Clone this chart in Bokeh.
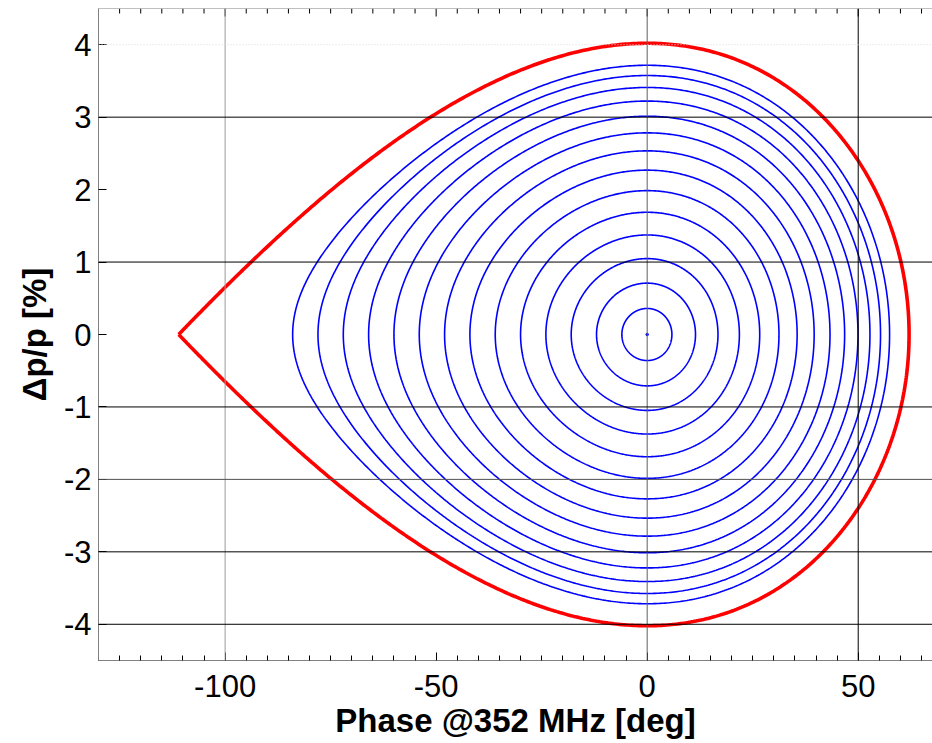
import numpy as np
from bokeh.plotting import figure
from bokeh.models import Range1d, FixedTicker, Span
from bokeh.embed import file_html
from bokeh.resources import INLINE

# RF bucket parameters (longitudinal phase space at 352 MHz)
sync_phase_deg = 145.5          # synchronous phase
separatrix_height = 4.02        # dp/p [%] of the separatrix at phase 0
unstable_phase_deg = -111.0     # cusp of the separatrix (unstable fixed point)

# left turning phase [deg] of each tracked orbit (dp/p = 0)
orbit_start_phase = [-6, -12, -18, -24, -30, -36, -42, -48, -54, -60, -66, -72, -78, -84]

x_ticks = [-100, -50, 0, 50]
y_ticks = [-4, -3, -2, -1, 0, 1, 2, 3, 4]
x_lo, x_hi = -130, 67.6
y_lo, y_hi = -4.5, 4.5

phs = np.radians(sync_phase_deg)


def potential(x_deg):
    x = np.radians(x_deg)
    return np.cos(phs + x) - np.cos(phs) + x * np.sin(phs)


e_sep = potential(unstable_phase_deg)
kin = 2.0 * e_sep / separatrix_height ** 2


def right_turning(level):
    lo, hi = 0.0, 120.0
    for _ in range(80):
        mid = 0.5 * (lo + hi)
        if potential(mid) < level:
            lo = mid
        else:
            hi = mid
    return 0.5 * (lo + hi)


def orbit(x_left):
    level = potential(x_left)
    x_right = right_turning(level)
    th = np.linspace(0.0, np.pi, 400)
    xs = x_left + (x_right - x_left) * (1 - np.cos(th)) / 2
    dp = np.sqrt(np.clip(2.0 * (level - potential(xs)) / kin, 0, None))
    X = np.concatenate([xs, xs[::-1]])
    Y = np.concatenate([dp, -dp[::-1]])
    return X, Y


FONT = "Liberation Sans"

p = figure(frame_width=834, frame_height=652,
           x_range=Range1d(x_lo, x_hi), y_range=Range1d(y_lo, y_hi),
           output_backend="svg", toolbar_location=None,
           min_border_left=98, min_border_right=0,
           min_border_top=8, min_border_bottom=83,
           background_fill_color="white", border_fill_color="white")
p.outline_line_color = None
p.grid.visible = False

# reference lines
for xv, col in [(-100, "#9a9a9a"), (0, "#606060"), (50, "#000000")]:
    p.add_layout(Span(location=xv, dimension="height", line_color=col, line_width=1))
for yv, col in [(3, "#000000"), (1, "#000000"), (-1, "#000000"),
                (-2, "#505050"), (-3, "#000000"), (-4, "#000000")]:
    p.add_layout(Span(location=yv, dimension="width", line_color=col, line_width=1))
p.add_layout(Span(location=4, dimension="width", line_color="#d8d8d8",
                  line_width=1, line_dash="1 2"))

# orbits inside the bucket
for x0 in orbit_start_phase:
    X, Y = orbit(x0)
    p.line(X, Y, line_color="#0000ff", line_width=1.6)
p.scatter([0], [0], size=2.5, color="#0000ff")

# separatrix
Xs, Ys = orbit(unstable_phase_deg)
p.line(Xs, Ys, line_color="#ff0000", line_width=3.6)

minor_x = [v for v in range(-130, 70, 5) if v not in x_ticks]

xa = p.xaxis[0]
xa.ticker = FixedTicker(ticks=x_ticks, minor_ticks=minor_x)
xa.axis_label = "Phase @352 MHz [deg]"
xa.major_label_overrides = {v: str(v) for v in x_ticks}
ya = p.yaxis[0]
ya.ticker = FixedTicker(ticks=y_ticks, minor_ticks=[])
ya.axis_label = "\u0394p/p [%]"
ya.major_label_overrides = {v: str(v) for v in y_ticks}

for ax in (xa, ya):
    ax.axis_line_color = "#808080"
    ax.major_tick_line_color = "#000000"
    ax.minor_tick_line_color = "#000000"
    ax.major_tick_in = 8
    ax.major_tick_out = 0
    ax.minor_tick_in = 5
    ax.minor_tick_out = 0
    ax.major_label_text_font = FONT
    ax.major_label_text_font_size = "31px"
    ax.major_label_text_color = "#000000"
    ax.axis_label_text_font = FONT
    ax.axis_label_text_font_size = "33px"
    ax.axis_label_text_font_style = "bold"
    ax.axis_label_text_color = "#000000"

xa.major_label_standoff = 14
xa.axis_label_standoff = 2
ya.major_label_standoff = 7
ya.axis_label_standoff = 8

# top border with inward ticks
p.add_layout(Span(location=y_hi, dimension="width", line_color="#808080", line_width=1))
tick_len_major = 8 * (y_hi - y_lo) / 652
tick_len_minor = 5 * (y_hi - y_lo) / 652
p.segment(x0=x_ticks, y0=[y_hi] * len(x_ticks), x1=x_ticks,
          y1=[y_hi - tick_len_major] * len(x_ticks), line_color="#000000", line_width=1)
p.segment(x0=minor_x, y0=[y_hi] * len(minor_x), x1=minor_x,
          y1=[y_hi - tick_len_minor] * len(minor_x), line_color="#000000", line_width=1)

open("out.html", "w").write(file_html(p, INLINE))
